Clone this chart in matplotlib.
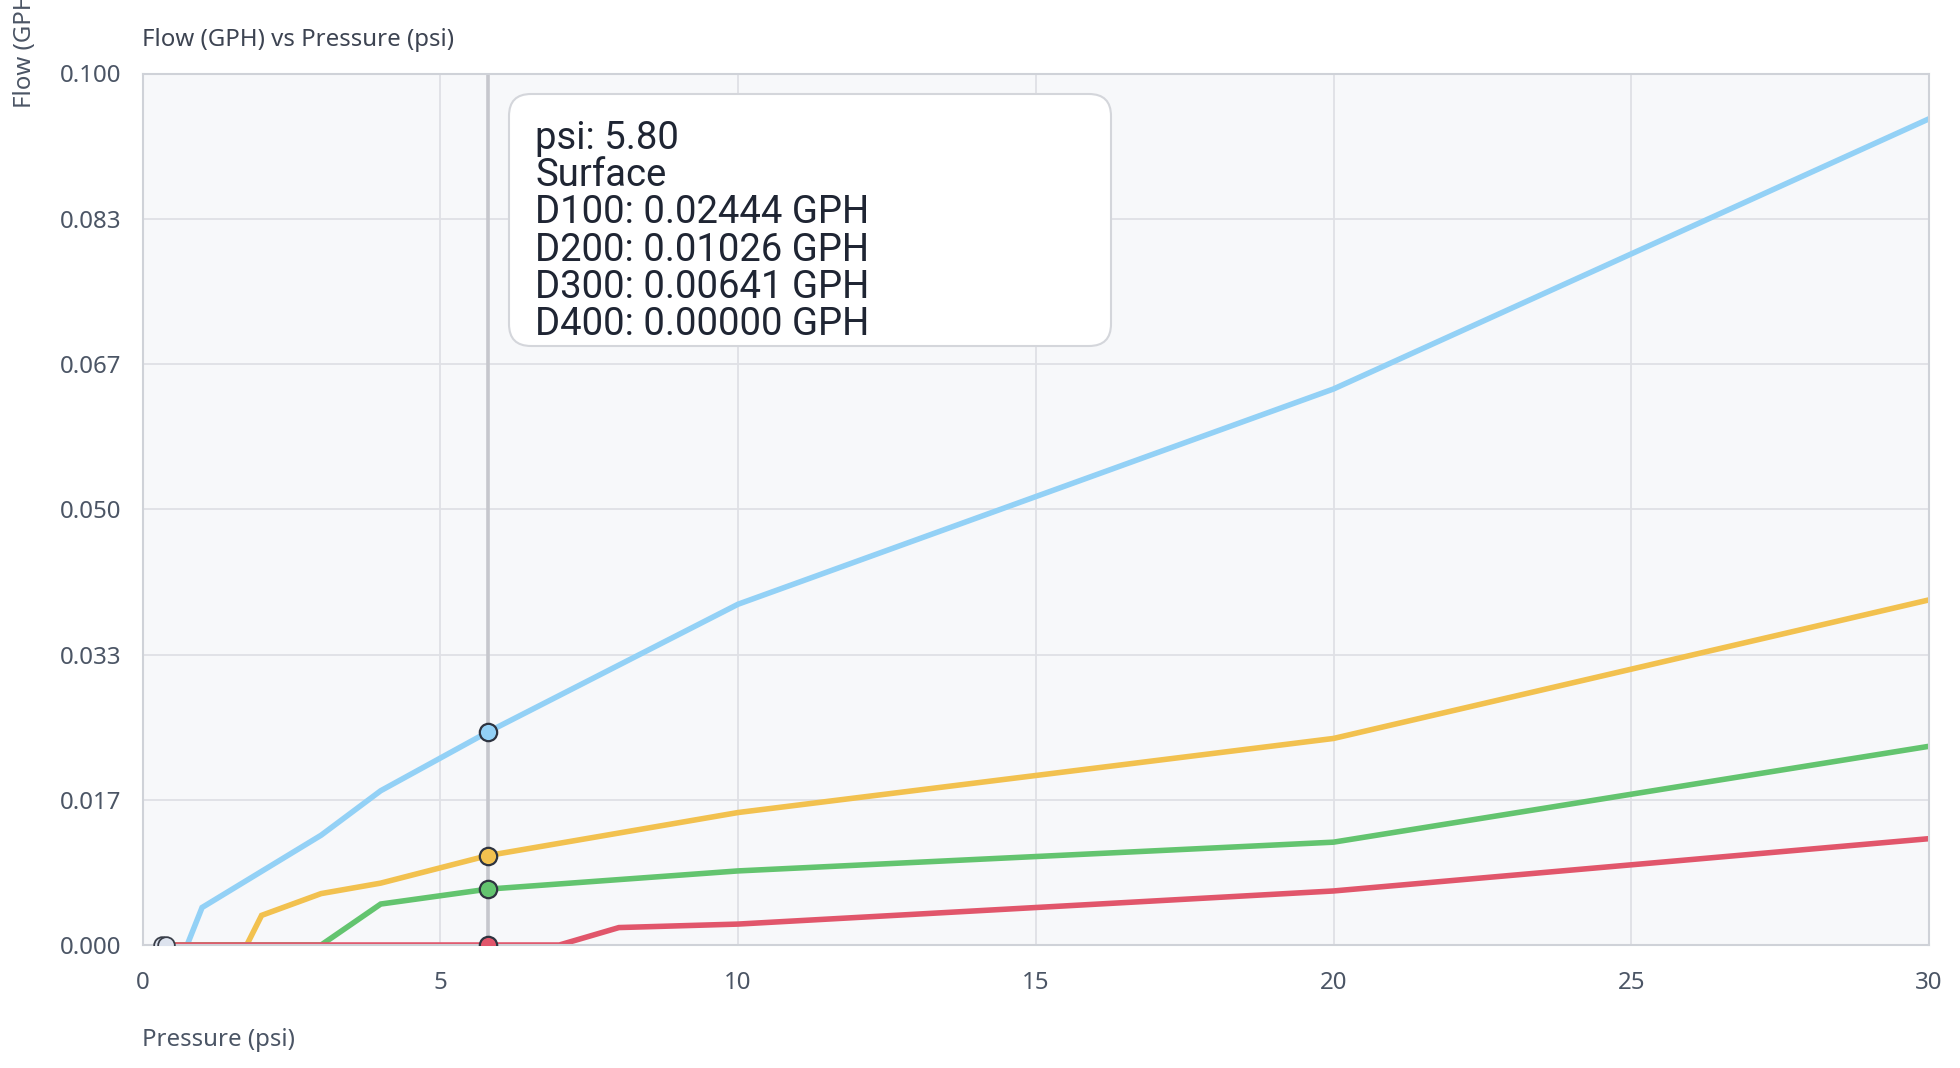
import matplotlib
matplotlib.use("Agg")
import matplotlib.pyplot as plt
from matplotlib.patches import FancyBboxPatch
from matplotlib.transforms import IdentityTransform

# data
d100_psi = [0.3, 0.75, 1, 3, 4, 5.8, 10, 20, 30]
d100_gph = [0, 0, 0.0043, 0.0126, 0.0177, 0.02444, 0.0391, 0.0638, 0.0948]
d200_psi = [0.3, 1.75, 2, 3, 4, 5.8, 10, 20, 30]
d200_gph = [0, 0, 0.0034, 0.0059, 0.0071, 0.01026, 0.0152, 0.0237, 0.0396]
d300_psi = [0.3, 3, 4, 5.8, 10, 20, 30]
d300_gph = [0, 0, 0.0047, 0.00641, 0.0085, 0.0118, 0.0228]
d400_psi = [0.3, 7, 8, 10, 20, 30]
d400_gph = [0, 0, 0.0020, 0.0024, 0.0062, 0.0122]

hover_psi = 5.8
hover_vals = [0.02444, 0.01026, 0.00641, 0.0]
surface_psi = [0.32, 0.4]

x_ticks = [0, 5, 10, 15, 20, 25, 30]
y_ticks = [0, 0.1 / 6, 0.2 / 6, 0.05, 0.4 / 6, 0.5 / 6, 0.1]
y_labels = ["0.000", "0.017", "0.033", "0.050", "0.067", "0.083", "0.100"]

series = [("D100", d100_psi, d100_gph, "#93d1f6"),
          ("D200", d200_psi, d200_gph, "#f2c14f"),
          ("D300", d300_psi, d300_gph, "#63c46f"),
          ("D400", d400_psi, d400_gph, "#e1566b")]

TXT = "#4b5565"
FS = 17.3
plt.rcParams["font.family"] = ["Noto Sans", "DejaVu Sans"]

W, H = 1960, 1068
fig = plt.figure(figsize=(W / 100, H / 100), dpi=100)
ax = fig.add_axes([142.5 / W, 1 - 945 / H, (1929 - 142.5) / W, (945 - 73.5) / H])
ax.set_facecolor("#f7f8fa")
ax.set_xlim(0, 30)
ax.set_ylim(0, 0.1)
ax.set_xticks(x_ticks)
ax.set_yticks(y_ticks)
ax.set_yticklabels(y_labels)
ax.tick_params(length=0, labelsize=FS, colors=TXT)
ax.tick_params(axis="x", pad=19)
ax.tick_params(axis="y", pad=15)
ax.grid(True, color="#dfe0e5", lw=1.3)
ax.set_axisbelow(True)
for s in ax.spines.values():
    s.set_color("#cfd2d8"); s.set_linewidth(1.5)

ax.axvline(hover_psi, color="#c6c7cd", lw=2.6, zorder=1.5)

for name, px, py, c in series:
    ax.plot(px, py, color=c, lw=4.0, solid_joinstyle="miter", zorder=2)
ax.plot(surface_psi, [0, 0], ls="none", marker="o", ms=12, mfc="#dde3ee",
        mec="#3a3f4a", mew=1.3, zorder=3)
for (name, px, py, c), v in zip(series, hover_vals):
    ax.plot([hover_psi], [v], marker="o", ms=12.5, mfc=c, mec="#2e3440",
            mew=1.6, zorder=4)

# tooltip
box = FancyBboxPatch((509, H - 346), 602, 252, boxstyle="round,pad=0,rounding_size=22",
                     transform=IdentityTransform(), fc="white", ec="#d4d6db", lw=1.5,
                     zorder=10)
fig.patches.append(box)
lines = [f"psi: {hover_psi:.2f}", "Surface"] + \
        [f"{s[0]}: {v:.5f} GPH" for s, v in zip(series, hover_vals)]
for i, t in enumerate(lines):
    fig.text(535 / W, 1 - (148.7 + 37.3 * i) / H, t, fontsize=27.5, color="#1f2533",
             va="baseline", ha="left", zorder=11, family=["Roboto", "DejaVu Sans"])

fig.text(142.5 / W, 1 - 40 / H, "Flow (GPH) vs Pressure (psi)", fontsize=FS,
         color="#3d4452", va="center", ha="left")
fig.text(142.5 / W, 1 - 1040 / H, "Pressure (psi)", fontsize=FS, color=TXT,
         va="center", ha="left")
fig.text(25 / W, 1 - 108 / H, "Flow (GPH)", fontsize=FS, color=TXT, rotation=90,
         va="bottom", ha="center")

fig.savefig("out.png", dpi=100, facecolor="white")
